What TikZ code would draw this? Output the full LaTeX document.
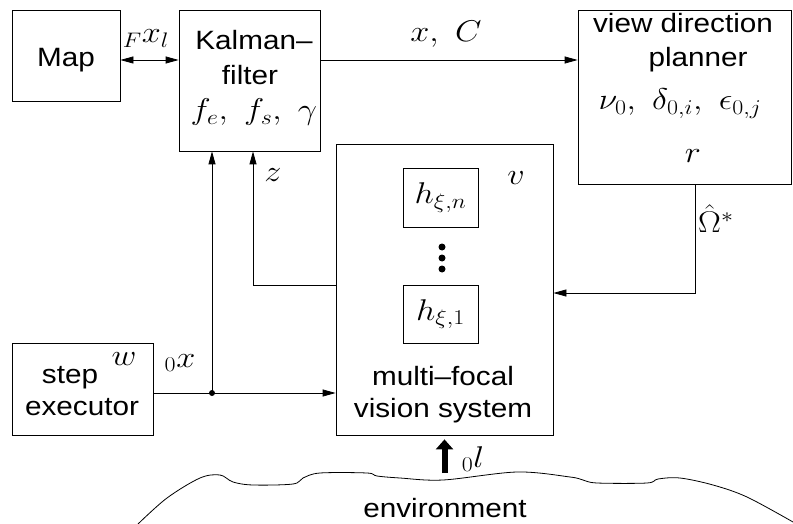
\RequirePackage{fix-cm}
\documentclass[tikz,border=0pt]{standalone}
\usepackage[no-math]{fontspec}
\setmainfont{Liberation Sans}[FakeStretch=1.12]
\usetikzlibrary{arrows.meta}
\newcommand{\Mth}[1]{\scalebox{1.14}[1]{$#1$}}
\begin{document}
\begin{tikzpicture}[x=1pt,y=-1pt,
  box/.style={draw, line width=0.8pt, inner sep=0pt},
  txt/.style={anchor=base, inner sep=0pt, font=\fontsize{26.5}{32}\selectfont},
  mth/.style={anchor=base, inner sep=0pt, font=\fontsize{30}{34}\selectfont},
  con/.style={line width=0.8pt, -{Triangle[length=13pt,width=7pt]}},
  dcon/.style={line width=0.8pt, {Triangle[length=13pt,width=7pt]}-{Triangle[length=13pt,width=7pt]}},
  dot/.style={circle, fill, inner sep=0pt, minimum size=#1}
  ]
\useasboundingbox (0,0) rectangle (793,524);
% boxes
\node[box, minimum width=108pt, minimum height=91pt] (map) at (66,55.5) {};
\node[box, minimum width=141pt, minimum height=141pt] (kal) at (249.5,80.5) {};
\node[box, minimum width=213pt, minimum height=174pt] (vdp) at (684.5,97) {};
\node[box, minimum width=217pt, minimum height=291pt] (vis) at (444.5,289.5) {};
\node[box, minimum width=75pt, minimum height=59pt, font=\fontsize{30}{34}\selectfont] (hn) at (440.5,197.5) {\Mth{h_{\xi,n}}};
\node[box, minimum width=75pt, minimum height=58pt, font=\fontsize{30}{34}\selectfont] (h1) at (440.5,314) {\Mth{h_{\xi,1}}};
\node[box, minimum width=141pt, minimum height=92pt] (step) at (82.5,389) {};
% box texts
\node[txt] (tmap) at (66,67) {Map};
\node[txt] (tkal1) at (254,50) {Kalman--};
\node[txt] (tkal2) at (250,85) {filter};
\node[mth] (tkal3) at (254,120) {\Mth{f_e,\ f_s,\ \gamma}};
\node[txt] (tvdp1) at (683,33) {view direction};
\node[txt] (tvdp2) at (698,67) {planner};
\node[mth] (tvdp3) at (680,110) {\Mth{\nu_0,\ \delta_{0,i},\ \epsilon_{0,j}}};
\node[mth] (tvdp4) at (693,163) {\Mth{r}};
\node[txt] (tvis1) at (443,385) {multi--focal};
\node[txt] (tvis2) at (443,417) {vision system};
\node[txt] (tstep1) at (70,383) {step};
\node[txt] (tstep2) at (82,415) {executor};
\node[txt] (tenv) at (445,517) {environment};
% dots
\node[dot=7pt] (d1) at (442,247) {};
\node[dot=7pt] (d2) at (442,258) {};
\node[dot=7pt] (d3) at (442,269) {};
% labels
\node[mth] (lfx) at (146,43) {\Mth{{}_F x_l}};
\node[mth] (lxc) at (446,42) {\Mth{x,\ C}};
\node[mth] (lz) at (273,182) {\Mth{z}};
\node[mth] (lv) at (516,185) {\Mth{v}};
\node[mth, anchor=base west] (lom) at (698,233) {\Mth{\hat\Omega^*}};
\node[mth] (lw) at (124,365) {\Mth{w}};
\node[mth] (l0x) at (180,367) {\Mth{{}_0x}};
\node[mth] (l0l) at (473,467) {\Mth{{}_0l}};
% connectors
\draw[dcon] ([yshift=-4.5pt]map.east) coordinate (m1) -- (m1 -| kal.west);
\draw[con] ([yshift=20.5pt]kal.east) coordinate (k1) -- (k1 -| vdp.west);
\draw[con] ([yshift=-4pt]step.east) coordinate (s1) -- (s1 -| vis.west);
\coordinate (jn) at (212,393);
\node[dot=6pt] (jdot) at (jn) {};
\draw[con] (jn) -- (jn |- kal.south);
\coordinate (zc) at (253,285);
\draw[con] (zc -| vis.west) -- (zc) -- (zc |- kal.south);
\coordinate (oc) at (695,293);
\draw[con] (oc |- vdp.south) -- (oc) -- (oc -| vis.east);
\coordinate (envtop) at (444.5,473);
\draw[line width=6pt, -{Triangle[length=10pt,width=17pt]}, shorten >=4pt] (envtop) -- (envtop |- vis.south);
% environment
\draw[line width=0.8pt] plot[smooth, tension=0.55] coordinates {
 (138,524) (167,498) (200,478) (220,475) (233,482) (253,485) (293,484) (303,478)
 (320,473) (367,473) (377,476) (400,478) (443,480) (517,472) (570,477) (583,480)
 (597,483) (647,483) (658,479) (680,478) (713,485) (747,497) (793,522)};
\end{tikzpicture}
\end{document}
